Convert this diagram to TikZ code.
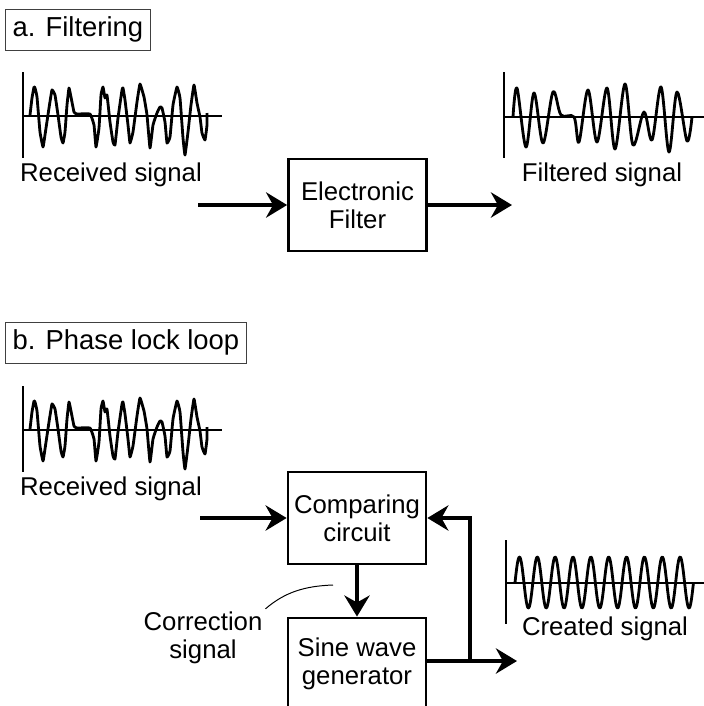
\documentclass[tikz,border=0pt]{standalone}
\usepackage{fontspec}
\setmainfont{Liberation Sans}
\usetikzlibrary{arrows.meta, positioning}
\newcommand{\lblsize}{\fontsize{18.3}{20}\selectfont}
\newcommand{\ttlsize}{\fontsize{19.5}{24}\selectfont}

\tikzset{
  rxwave/.pic={
    \draw[axisline] (23,72) -- (23,158);
    \draw[axisline] (23,116) -- (222,116);
    \draw[waveline] plot[smooth, tension=0.2] coordinates {
      (30,115) (32,98) (34,87) (35,88) (37,97) (40,132) (43,147) (45,135)
      (49,108) (52,90) (55,95) (58,115) (61,137) (63,143) (65,132) (67,105)
      (69,88) (71,97) (74,112) (77,114) (90,114) (94,125) (96,147) (99,128)
      (101,95) (103,87) (105,98) (107,95) (110,122) (113,142) (115,145)
      (118,118) (122,90) (123,88) (125,100) (128,125) (130,143) (133,132)
      (137,102) (140,84) (144,97) (147,115) (150,148) (153,125) (157,113)
      (160,107) (162,108) (165,122) (167,143) (170,137) (173,105) (177,87)
      (180,98) (183,138) (185,155) (188,132) (191,105) (194,85) (197,103)
      (200,117) (202,133) (205,140) (207,125) (207,113)};
  }
}

\begin{document}
\begin{tikzpicture}[
    x=0.025cm, y=-0.025cm,
    node distance=1.28cm,
    block/.style={rectangle, draw, line width=1.9pt, minimum width=3.45cm,
                  minimum height=2.3cm, align=center, font=\lblsize},
    caption/.style={font=\lblsize, inner sep=2pt, align=center},
    heading/.style={rectangle, draw=black!75, line width=0.6pt, font=\ttlsize,
                  inner xsep=0.18cm, minimum height=1.025cm, anchor=west},
    flow/.style={line width=2.6pt, -{Stealth[length=15pt, width=18pt, inset=5pt]}},
    axisline/.style={line width=1.6pt},
    waveline/.style={line width=2pt, line join=round},
    leader/.style={line width=0.7pt},
  ]
    \path[use as bounding box, clip] (0,0) rectangle (704,706);

    % a. Filtering
    \node[heading] (ttlA) at (5,29.5) {a. Filtering};
    \pic at (0,0) {rxwave};
    \node[caption, anchor=base] (rxA) at (111,181) {Received signal};
    \node[block] (filter) at (357.5,205) {Electronic\\Filter};
    \coordinate (inA) at (198,205);
    \coordinate (outA) at (512,205);
    \draw[flow] (inA) -- (filter);
    \draw[flow] (filter) -- (outA);

    \draw[axisline] (504,72) -- (504,158);
    \draw[axisline] (504,117) -- (704,117);
    \draw[waveline] plot[smooth, tension=0.55] coordinates {
      (513,117) (517,88) (526,147) (534,93) (543,143) (553,92) (561,115)
      (574,117) (579,142) (588,90) (597,142) (607,88) (615,149) (625,84)
      (633,145) (644,112) (652,140) (661,87) (669,152) (677,92) (687,141)
      (692,117)};
    \node[caption, anchor=base] (filtA) at (602,181) {Filtered signal};

    % b. Phase lock loop
    \node[heading] (ttlB) at (5,342.5) {b. Phase lock loop};
    \pic at (0,314) {rxwave};
    \node[caption, anchor=base] (rxB) at (111,495) {Received signal};
    \node[block] (compare) at (357,518) {Comparing\\circuit};
    \node[block, below=of compare] (sine) {Sine wave\\generator};
    \coordinate (inB) at (200,518);
    \coordinate (tap) at (470,661);
    \coordinate (outB) at (517,661);
    \draw[flow] (inB) -- (compare);
    \draw[flow] (compare) -- (sine);
    \draw[flow] (sine.east |- tap) -- (outB);
    \draw[flow] (tap) |- (compare.east);

    \node[caption] (corr) at (203,638) {Correction\\signal};
    \coordinate (corrtip) at (333,585);
    \draw[leader] (corr.north east) .. controls (285,592) and (305,586) .. (corrtip);

    \draw[axisline] (506,540) -- (506,624);
    \draw[axisline] (506,583) -- (704,583);
    \draw[waveline] plot[domain=0:10, samples=300, smooth]
      ({515+17.85*\x}, {582.5-25.5*sin(360*\x)});
    \node[caption, anchor=base] (created) at (605,635) {Created signal};
\end{tikzpicture}
\end{document}
